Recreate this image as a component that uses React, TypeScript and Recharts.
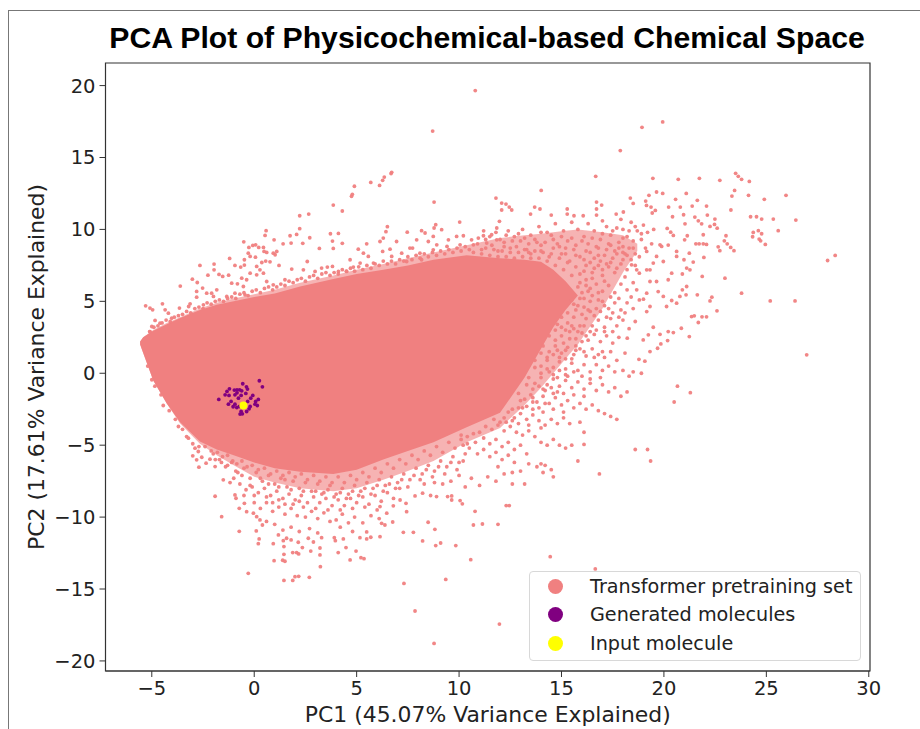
import { ComposedChart, Area, Scatter, XAxis, YAxis, ReferenceArea, Label } from "recharts";

const pcX = [-5.57, -5.42, -4.93, -4.27, -3.62, -2.65, -1.83, -1, 0, 1, 2.24, 3.86, 5, 6.3, 7.5, 8.75, 10.37, 12, 13.2, 14, 14.6, 15.2, 15.8, 17, 18, 18.7];
const coreLow = [2, 1.4, -0.5, -2.1, -3.4, -4.75, -5.3, -5.7, -6.2, -6.6, -6.85, -7, -6.7, -6, -5.4, -4.8, -3.75, -2.75, -0.3, 1.7, 3.2, 4.4, 5.4, null, null, null];
const coreHigh = [2.2, 2.5, 2.95, 3.4, 3.84, 4.4, 4.77, 5, 5.3, 5.55, 6.04, 6.55, 6.9, 7.2, 7.5, 7.9, 8.2, 8, 7.9, 7.75, 7.2, 6.4, 5.4, null, null, null];
const midLow = [2, 1.4, -0.5, -2.1, -3.5, -4.9, -5.7, -6.4, -7.2, -7.6, -8, -8.2, -8, -7.4, -6.8, -6.1, -4.8, -3.8, -2.2, -1, 0, 1, 2, 4.5, 7, 8.5];
const midHigh = [2.2, 2.5, 3, 3.5, 3.9, 4.5, 4.9, 5.2, 5.5, 5.8, 6.3, 6.8, 7.2, 7.6, 8, 8.4, 8.9, 9.4, 9.6, 9.7, 9.8, 9.9, 10, 9.8, 9.6, 9];

const topFringe = [
  [-5.3,4.69],[-5.09,4.53],[-4.96,4.41],[-4.48,4.83],[-4.84,3.67],[-5,3.25],[-5.09,2.9],[-4.6,3.48],[-4.35,4.41],[-4.19,4.18],[-4.03,3.83],[-3.65,4.53],[-3.61,6.06],[-3.02,6.54],[-2.78,6.31],[-2.65,7.5],[-2.26,6.82],[-1.96,7.59],[-1.96,7.19],[-1.72,6.87],[-1.54,6.73],[-1.25,6.82],[-1.2,7.98],[-0.94,7.5],[-0.66,7.38],[-0.48,7.89],[-0.48,7.52],[-0.26,8.75],[-0.29,8.35],[-0.07,8.89],[0.07,8.93],[0.22,8.75],[0.45,8.75],[0.48,8.47],[0.61,8.4],[-0.2,8.12],[0.06,8.07],[0.37,7.7],[0.56,7.8],[0.77,7.75],[0.93,8.35],[1.1,8.47],[1.02,8.24],[1.21,7.5],[0.12,7.43],[0.28,7.19],[0.45,6.96],[0.12,6.84],[-0.2,6.96],[-0.61,6.61],[-0.37,6.5],[-1.1,6.26],[-0.82,6.22],[-0.53,6.03],[-1.83,5.8],[-2.08,5.57],[-2.32,5.57],[-2.52,5.92],[-2.81,5.69],[-2.81,5.29],[-3.13,4.83],[-3.2,4.64],[-2.48,4.76],[-1.99,5.34],[-1.34,5.34],[-0.94,5.57],[-0.45,5.45],[0.61,6.38],[0.93,6.15],[1.5,6.5],[1.83,7.24],[2.4,7.19],[2.59,7.77],[2.97,7.08],[3.29,7.31],[3.57,7.38],[3.82,7.43],[4.11,7.08],[4.51,7.08],[4.68,7.89],[5.08,8.63],[5.33,8.35],[5.49,9],[5.57,8.12],[4.84,7.38],[5.17,7.66],[5.82,7.66],[6.14,9.16],[6.3,9.4],[6.63,8.63],[6.95,9.16],[6.27,8.47],[6.71,8.12],[7.2,8.35],[7.6,8.7],[7.73,8.7],[7.93,9.28],[8.34,9.75],[8.5,9.16],[8.74,9.51],[8.91,8.93],[9.15,9.98],[9.48,9.28],[9.88,9.51],[10.21,9.56],[10.61,9.28],[10.94,9.4],[11.19,9.56],[11.59,9.63],[11.84,10.1],[11.97,10.56],[8.09,8.35],[8.74,8.58],[9.41,8.82],[10.05,8.93],[10.7,8.93],[11.35,9.05],[11.84,9.28],[7.44,7.77],[8.17,7.89],
  [1.75,9.56],[0.97,9.28],[2.07,9.65],[2.71,9.42],[1.41,9],[1.8,9.05],[2.37,9.03],[3.72,9.7],[4.11,9.72],[3.82,9.19],[4.3,9.03],[3.18,8.68],[3.86,8.68],[6.5,10.19],[6.43,9.84],[7.47,9.81],[8.17,9.91],[8.86,10.33],[8.78,10.1],[0.58,9.91],[0.53,9.58],[-0.51,9.14],
];

const topEdge = [
  [-5.1,2.9],[-4.9,3.2],[-4.7,3.3],[-4.5,3.5],[-4.3,3.7],[-4.1,3.6],[-3.9,3.9],[-3.7,4],[-3.5,4.1],[-3.3,4.3],[-3.1,4.2],[-2.9,4.5],[-2.7,4.6],[-2.5,4.5],[-2.3,4.9],[-2.1,4.8],[-1.9,5],[-1.7,5.1],[-1.5,5],[-1.3,5.2],[-1.1,5.3],[-0.9,5.2],[-0.7,5.5],[-0.5,5.6],[-0.3,5.4],[-0.1,5.7],[0.1,5.8],[0.3,5.6],[0.5,5.9],[0.7,6],[0.9,5.8],[1.1,6],[1.3,6.2],[1.5,6.1],[1.7,6.4],[1.9,6.3],[2.1,6.5],[2.3,6.6],[2.5,6.4],[2.7,6.7],[2.9,6.8],[3.1,6.6],[3.3,6.9],[3.5,7],[3.7,6.8],[3.9,7],[4.1,6.9],[4.3,7.2],[4.5,7.1],[4.7,7.3],[4.9,7.1],[5.1,7.4],[5.3,7.2],[5.5,7.5],[5.7,7.3],[5.9,7.6],[6.1,7.5],[6.3,7.8],[6.5,7.6],[6.7,7.8],[6.9,7.6],[7.1,7.9],[7.3,7.8],[7.5,8.1],[7.7,7.9],[7.9,8.2],[8.1,8],[8.3,8.3],[8.5,8.1],[8.7,8.4],[8.9,8.2],[9.1,8.5],[9.3,8.3],[9.5,8.6],[9.7,8.4],[9.9,8.7],[10.1,8.5],[10.3,8.8],[10.5,8.6],[10.7,8.4],[10.9,9],[11.1,8.3],[11.3,8.7],[11.5,8.2],[11.7,8.6],[11.9,8.1],[12.1,8.5],[12.3,8.1],[12.5,8.4],[12.7,8],[12.9,8.4],[13.1,8.1],[13.3,8.6],[13.5,8],[13.7,8.5],[13.9,8],[14.1,8.4],[14.3,7.8],[14.5,8.3],[14.7,7.5],[14.9,8],[15.1,7.2],[15.3,7.7],[15.5,6.8],[15.7,7.4],[15.9,6.3],[16.1,7.1],[16.3,5.7],[16.5,6.6],
  [11.2,9.9],[11.5,9.5],[11.8,9.8],[12,9.3],[12.3,9.6],[12.6,9.2],[12.9,9.7],[13.2,9.4],[13.4,9],[13.7,9.3],[14,9.8],[14.2,9.1],[14.5,9.6],[14.8,9],[15,9.5],[15.2,8.7],[15.5,9.4],[15.7,8.9],[16,9.2],[16.2,8.5],[16.5,9.4],[16.7,8.8],[17,9.7],[17.3,9],[17.5,9.9],[17.8,9.1],[18,10],[18.2,9.5],[18.5,9.2],[18.7,9.9],[18.9,9.3],
  [12.2,8.8],[12.8,8.8],[13.4,8.4],[14,8.9],[14.6,8.7],[15.2,8.3],[15.7,8.2],[16.1,7.9],[16.6,8],[16.9,7.8],[17.2,8.6],[17.5,8],[17.8,8.7],[18.1,8.3],[18.4,7.9],[16.6,7.3],[17,7.2],[17.4,7.7],[17.7,7.3],[18,7.9],
];

const rightFringe = [
  [11.1,8.6],[11.3,9.3],[11.6,8.9],[11.9,8.5],[12.2,9.1],[12.5,8.7],[12.7,9.5],[13,9.2],[13.2,8.6],[13.5,9.6],[13.8,9.1],[14,8.5],[14.3,9.8],[14.6,9.3],[14.9,8.8],[15.1,9.9],[15.3,9.2],[15.6,8.6],[15.8,10],[16.1,9.5],[16.3,9],[16.6,9.9],[16.9,9.3],[17.2,10.2],[17.4,9.6],[17.7,10.1],[18,9.4],[18.3,9.9],[18.6,10.2],[18.9,9.7],[19.2,9.8],
  [12.4,9.9],[13.1,10],[13.9,10.2],[14.7,10.4],[15.5,10.5],[16.3,10.4],[17,10.6],[17.9,10.7],[18.4,10.5],[19,10.3],[19.5,10],
  [13.5,8.3],[14.4,8.1],[15,8.3],[15.4,7.8],[15.9,8.1],[16.2,7.5],[16.4,8.4],[16.8,8.7],[17.1,8.2],[17.4,8.9],[17.7,8.3],[18,8.8],[18.2,8.2],[18.5,8.7],[18.8,8.1],[19.1,8.7],[19.4,9],
  [15.9,6.9],[16.2,6.5],[16.5,7],[16.8,7.5],[17,6.8],[17.3,7.4],[17.6,7],[17.9,7.6],[18.2,7.2],[18.6,7.5],[16.4,5.9],[16.7,6.2],[17,5.7],[17.3,6.1],[17.6,5.6],[17.9,6.2],[18.2,5.8],[18.5,6.3],[18.8,6.96],[19.16,7.19],[19.32,7.19],[18.67,7.19],[18.42,7.54],[19.48,7.66],[19.97,7.77],[20.38,6.96],[20.21,6.5],[19.64,8.12],[19.16,8.47],[19.81,8.93],[20.62,8.47],[20.62,8.12],
  [15.6,4.8],[15.9,5.2],[16.1,4.6],[16.4,5],[16.7,4.5],[17,5],[17.3,4.5],[17.6,4.9],[17.9,4.4],[18.2,4.9],[18.5,4.5],[18.8,5.1],[19,5.15],[18.67,5.8],[19.16,5.57],[19.32,4.64],[19.16,4.29],[19.32,6.38],[19.64,6.38],[19.72,5.68],[19.97,5.34],[20.13,4.64],[20.38,5.06],[20.62,4.87],[20.78,5.34],[21.08,5.45],[21.11,6.03],[20.9,5.8],
  [15,3.9],[15.3,3.5],[15.6,3.9],[15.9,3.3],[16.2,3.8],[16.5,3.3],[16.8,3.7],[17.1,3.2],[17.4,3.8],[17.7,3.3],[18,3.7],[18.3,3.1],[18.6,3.6],[14.7,3],[15,2.6],[15.4,2.9],[15.7,2.4],[16,2.8],[16.3,2.3],[16.6,2.7],[16.9,2.2],[17.2,2.6],[17.5,2.1],[17.8,2.5],[18.21,2.44],[18.99,2.32],[19.24,2.67],[19.48,3.2],[19.81,2.71],[20.18,2.27],[20.21,2.9],[20.46,2.83],[20.85,3.13],[19.85,2.04],[19.69,1.74],[19.32,1.51],[18.78,0.97],[19.07,0.84],
  [14.1,1.9],[14.4,1.5],[14.7,1.9],[15,1.4],[15.3,1.8],[15.6,1.3],[15.9,1.7],[16.2,1.2],[16.5,1.7],[16.8,1.3],[17.1,1.1],[17.4,1.5],[17.7,0.9],[18.1,1.4],[13.7,0.9],[14,0.5],[14.3,0.9],[14.6,0.4],[14.9,0.8],[15.2,0.3],[15.5,0.7],[15.8,0.2],[16.1,0.6],[16.4,0.1],[16.7,0.6],[17,0.2],[17.3,0.5],[17.6,0.1],[18,0.2],[18.3,-0.2],[18.5,0.1],[18.9,0],
  [13.4,-0.3],[13.7,-0.7],[14,-0.3],[14.3,-0.8],[14.6,-0.4],[14.9,-0.9],[15.2,-0.5],[15.5,-1],[15.8,-0.6],[16.1,-1.1],[16.4,-0.7],[16.7,-1.2],[17,-0.8],[17.3,-1.3],[17.6,-1],[17.9,-1.6],[18.2,-1.3],[12.9,-1.4],[13.2,-1.8],[13.5,-1.5],[13.8,-2],[14.1,-1.6],[14.4,-2.1],[14.7,-1.7],[15,-2.2],[15.3,-1.9],[15.6,-2.4],[15.9,-2.1],[16.2,-2.5],[16.5,-2.2],[16.8,-2.6],[17.1,-2.8],[17.4,-3],[17.7,-3.2],
  [12.4,-2.7],[12.7,-3.1],[13,-2.8],[13.3,-3.2],[13.6,-2.9],[13.9,-3.3],[14.2,-3.6],[14.5,-3.2],[14.8,-3.5],[15.1,-3.1],[15.4,-3.5],[15.9,-3.4],[16.1,-4.1],[11.9,-3.6],[12.2,-4],[12.5,-3.7],[12.8,-4.1],[13.1,-4.3],[13.4,-4],[13.7,-4.4],[14,-4.8],[14.3,-5],[14.6,-4.6],[14.9,-5],[15.2,-5.2],[15.5,-5],
  [11.2,-4.5],[11.5,-4.9],[11.8,-4.6],[12.1,-5.1],[12.4,-4.8],[12.7,-5.3],[13,-5],[13.3,-5.6],[10.5,-5.2],[10.9,-5.6],[11.2,-5.3],[11.5,-5.8],[11.8,-5.5],[12.1,-6],[12.4,-5.7],[12.7,-6.2],[13,-6.8],[13.4,-6.3],[13.8,-6.5],[14,-6.3],[14.2,-6.4],[11.9,-6.5],[12.2,-7],[12.6,-6.9],[12.6,-7.7],[13.2,-7.7],
  [15.3,4.2],[15.7,4.4],[16,4.1],[16.3,4.4],[16.6,4],[16.9,4.3],[17.2,3.9],[14.8,3.4],[15.2,3],[15.5,3.3],[15.8,2.9],[16.1,3.3],[16.4,2.9],[14.4,2.6],[14.7,2.3],[15.1,2.1],[15.4,2.4],[15.7,1.9],[16,2.2],[14,1.4],[14.3,1.1],[14.6,1.3],[14.9,1.1],[15.2,1],[15.5,1],[13.7,0.4],[14,0],[14.3,0.3],[14.6,-0.1],[14.9,0.2],[15.3,-0.2],[13.3,-0.8],[13.6,-1.1],[13.9,-0.9],[14.2,-1.2],[14.5,-1],[14.8,-1.3],[13,-1.9],[13.3,-2.3],[13.6,-2],[13.9,-2.4],[14.2,-2.1],[12.6,-2.5],[12.9,-2.4],[12.2,-3.1],[12.6,-3.3],[11.7,-3.2],[12,-3.4],[11.3,-3.7],[11.6,-3.9],[11,-4.1],[10.7,-4.2],[10.4,-4.4],[10.1,-4.6],[10.8,-4.8],[10.2,-5],
  [16.2,6.1],[16.5,5.4],[16.8,5.6],[17.1,6.4],[17.4,5.3],[17.8,5.2],[18.1,6.7],[18.4,5.3],[16.4,7.7],[16.8,8.2],[17.2,7.6],[17.6,8.5],[18,8.4],[18.3,8.7],[18.6,8.3],[15.8,6],[16,5.6],[15.5,5.1],[15.8,4.7],[16.1,5.2],[16.4,4.3],[16.8,5.1],[17.1,4.7],[17.5,4.2],[17.8,3.9],[18.1,4.2],[15,3.2],[15.6,3.1],[16.2,2.6],[16.7,3],[17.1,2.9],[17.5,2.9],[14.8,1.6],[15.2,1.6],[15.7,1.6],[16.1,1.5],[16.6,1.1],[17,1.5],[14.4,0.1],[14.8,-0.3],[15.2,-0.1],[15.6,0.1],[16,-0.2],[16.4,-0.4],[16.9,-0.3],[13.6,-1.7],[14.1,-1.1],[14.6,-1.4],[15.1,-1.4],[15.6,-1.5],[16.1,-1.6],[13.1,-2.4],[13.6,-2.5],[14.1,-2.7],[14.6,-2.5],[15.1,-2.7],[12.3,-3.4],[12.9,-3.5],[13.4,-3.6],[14,-3.8],
];

const bottomFringe = [
  [-5,-0.45],[-4.44,-2.24],[-3.7,-3.7],[-3.21,-4.51],[-2.89,-5.21],[-3,-5.74],[-2.81,-6.02],[-2.7,-6.53],[-2.35,-6.25],[-2.56,-5.84],[-2.73,-5.44],[-2.16,-5.97],[-1.91,-6.49],[-1.51,-7.41],[-1.18,-7.6],[-0.94,-8.46],[-0.89,-8.69],[-0.73,-9.39],[-0.48,-9.04],[-0.37,-9.62],[-0.04,-9.73],[0.12,-9.97],[0.28,-10.2],[0.4,-10.55],[0.1,-10.96],
  [-2,-5.6],[-1.7,-6],[-1.4,-6.5],[-1.1,-6.2],[-0.8,-6.9],[-0.5,-6.6],[-0.2,-7.3],[0.1,-6.9],[0.4,-7.5],[0.7,-7.1],[1,-7.7],[1.3,-7.3],[1.6,-7.9],[1.9,-7.5],[2.2,-8],[2.5,-7.6],[2.8,-8.2],[3.1,-7.7],[3.4,-8.3],[3.7,-7.8],[4,-8.4],[4.3,-8],[4.6,-8.4],[4.9,-7.8],[5.2,-8.2],[5.5,-7.6],[5.8,-8],[6.1,-7.4],[6.4,-7.8],[6.7,-7.2],[7,-7.6],[7.3,-7],[7.6,-7.4],[7.9,-6.6],[8.2,-7],[8.5,-6.4],[8.8,-6.8],[9.1,-6.1],[9.4,-6.5],[9.7,-5.8],[10,-6.2],[10.3,-5.6],
  [-1,-7.3],[-0.7,-7.7],[-0.4,-8.1],[-0.1,-7.9],[0.2,-8.3],[0.5,-8],[0.8,-8.5],[1.1,-8.2],[1.4,-8.7],[1.7,-8.4],[2,-8.8],[2.3,-8.5],[2.6,-9],[2.9,-8.6],[3.2,-9],[3.5,-8.7],[3.8,-9.2],[4.1,-8.8],[4.4,-9.2],[4.7,-8.7],[5,-9],[5.3,-8.6],[5.6,-9.1],[5.9,-8.5],[6.2,-8.9],[6.5,-8.3],[6.8,-8.7],[7.1,-8],
  [0,-9],[0.3,-9.4],[0.6,-9],[0.9,-9.6],[1.2,-9.3],[1.5,-9.8],[1.8,-9.4],[2.1,-9.9],[2.5,-10],[2.8,-9.6],[3.1,-10.1],[3.4,-9.7],[3.7,-10.3],[4,-10.2],[4.3,-9.8],[4.6,-10.4],[4.9,-10],[5.3,-10.4],[5.7,-9.9],[6.1,-10.1],[0.6,-10.3],[1,-10.5],[1.4,-10.9],[1.8,-10.7],[2.2,-11],[2.7,-10.8],[3.1,-11.1],[4.2,-10.7],[4.8,-11],
  [1.18,-11.24],[0.93,-11.85],[1.42,-11.64],[1.45,-12.05],[1.58,-11.47],[1.8,-11.59],[2.15,-11.75],[2.35,-12.12],[2.76,-12.36],[3.21,-12.15],[2.64,-11.47],[2.89,-11.73],[3.29,-11.43],[3.91,-11.43],[3.96,-11.64],[4.48,-12.12],[4.35,-11.52],[5.16,-11.43],[5.49,-11.03],[5.49,-11.52],[5.69,-11.4],[6.14,-11.36],[6.38,-10.55],[6.22,-10.43],[6.76,-10.34],[7.41,-9.04],[7.44,-9.62],[7.12,-8.81],[6.79,-9.22],[6.47,-9.73],[6.14,-9.27],[8.22,-8.34],[7.85,-8.53],[8.61,-8.5],[8.9,-8.57],[9.44,-8.57],[9.64,-8.53],[9.64,-8.81],[10.05,-8.85],[10.16,-9.08],
  [10.3,-7.9],[10.6,-7.3],[11,-7.8],[11.4,-7.2],[11.8,-7.5],[10,-7.1],[9.6,-7.5],[9.2,-7.7],[8.8,-7.6],[8.3,-7.7],
];

const bottomEdge = [
  [-5.2,0.5],[-4.85,-0.9],[-4.55,-1.5],[-4.15,-2.6],[-3.85,-3.2],[-3.5,-3.9],[-3.3,-4.4],[-3,-4.9],[-2.7,-5.1],[-2.4,-5.1],[-2.1,-5.4],[-1.8,-5.5],[-1.55,-5.8],[-1.3,-5.7],[-1.05,-6.1],[-0.85,-6.3],[-0.6,-6.1],[-0.35,-6.5],[-0.1,-6.4],[0.2,-6.7],[0.5,-6.6],[0.8,-7],[1.1,-6.8],[1.4,-7.1],[1.7,-6.9],[2,-7.2],[2.3,-7],[2.6,-7.4],[2.9,-7.1],[3.2,-7.5],[3.5,-7.2],[3.8,-7.6],[4.1,-7.2],[4.4,-7.6],[4.7,-7.1],[5,-7.4],[5.3,-6.9],[5.6,-7.2],[5.9,-6.6],[6.2,-6.9],[6.5,-6.3],[6.8,-6.6],[7.1,-6],[7.4,-6.3],[7.7,-5.7],[8,-6],[8.3,-5.4],[8.6,-5.7],[8.9,-5.1],[9.2,-5.5],[9.5,-4.8],[9.8,-5.2],[10.1,-4.3],[10.4,-4.9],
  [-0.6,-7.1],[-0.9,-6.8],[-0.2,-7.8],[0.3,-7.3],[0.7,-7.7],[1.2,-7.9],[1.5,-7.4],[1.8,-8.1],[2.4,-8.2],[3,-8.2],[3.6,-8.1],[4.2,-8.3],[4.8,-8.2],[5.4,-8],[6,-7.8],[6.6,-7.7],[7.2,-7.4],[7.8,-7.1],[8.4,-6.7],[9,-6.5],[9.6,-6.2],[10.2,-6.1],[-1.3,-6.4],[-1.6,-6.2],[-1.9,-6],[-0.5,-8.5],[0,-8.5],[0.6,-8.6],[1.2,-8.8],[1.9,-9.1],[2.4,-9.3],[3,-9.4],[3.6,-9.5],[4.2,-9.5],[4.8,-9.4],[5.4,-9.3],[6,-9.5],
  [0.9,-9],[1.5,-9.1],[2.2,-8.9],[3.3,-8.4],[3.9,-8.6],[4.5,-8.7],[5.1,-8.5],[5.7,-8.4],[6.3,-8.2],[6.9,-8],[7.5,-7.9],[8.1,-7.4],[8.7,-7.2],[9.3,-7],[9.9,-6.7],
];

const outliers = [
  [10.79,19.65],[8.71,16.84],[6.71,13.97],[6.68,13.88],[6.35,13.64],[6.27,13.41],[6.12,13.06],[5.69,13.27],[4.89,13],[4.79,12.44],[4.75,12.3],[3.86,11.69],[4.3,11.28],[8.78,11.9],[10.03,10.51],[2.66,11.07],[2.22,10.95],[2.22,10.05],
  [19.94,17.47],[18.93,17.1],[17.87,15.48],[16.67,13.69],[19.46,13.55],[20.7,13.48],[21.73,13.55],[22.73,13.41],[23.5,13.9],[23.63,13.69],[23.79,13.48],[24.17,13.34],[14.01,12.71],[23.45,12.71],[23.32,12.32],[24.13,12.37],[24.9,12.09],[25.96,12.37],[19.64,12.6],[19.94,12.5],[19.27,12.37],[21.09,12.5],[20.57,12.09],[21.63,12.02],[18.36,12.18],[18.5,11.81],[19.11,11.97],[11.8,12.18],[12.08,11.83],[12.29,11.76],[12.45,11.55],[12.57,11.35],[12.08,11.35],[13.69,11.55],[13.95,11.42],[15.28,11.42],[16.71,11.9],[16.96,11.69],[16.71,11.42],[13.49,11.07],[14.5,11],[15.28,11.07],[15.61,10.95],[16.06,10.95],[16.71,11],[17.67,11.07],[18.02,11.21],[19.15,11.67],[19.37,11.55],[19.58,11.32],[19.43,11.14],[20.23,11.55],[20.8,11.55],[21.38,11.62],[22.08,11.62],[23.27,11.35],[20.42,10.88],[20.96,11.02],[21.51,10.86],[22.12,11],[21.68,10.6],[22.49,10.72],[24.23,10.88],[24.52,10.88],[24.77,10.72],[25.34,10.72],[26.44,10.65],[21.03,10.39],[21.84,10.39],[22.25,10.21],[22.47,10.35],[22.6,10.09],[25.58,9.91],[24.61,9.91],[24.36,9.79],[24.77,9.7],[24.33,9.49],[24.65,9.33],[24.72,9.21],[24.95,8.96],[23.03,9.56],[22.95,9.21],[23.09,9],[23.26,8.75],[23.42,8.52],[22.65,8.79],[22.73,8.52],[27.99,7.84],[28.36,8.19],[21.56,9],[21.72,9],[21.92,9.63],[21.92,9],[22.08,8.96],[21.14,9.56],[21.01,9.28],[20.16,10.07],[20.33,9.81],[20.46,9.58],[20.21,8.91],[19.89,8.82],[22.98,6.61],[23.79,5.57],[25.19,5.03],[26.4,5.03],[26.97,1.28],[22.34,5.29],[22.25,5.03],[22.59,4.34],[21.87,6.73],[21.63,5.45],[21.95,8.05],[21.24,8.35],[21.43,7.73],[20.98,7.89],[21.27,7.19],[21.11,7.31],[20.9,6.9],[21.35,3.94],[21.48,3.99],[21.86,3.92],[22.08,3.92],[21.68,3.53],[21.24,2.55],
  [20.66,-0.9],[20.5,-2],[21.29,-1.35],[19.2,-5.3],[19.35,-6.1],[18.6,-5.3],[16.1,-4.95],[15.8,-6.1],[16.85,-7],[14.1,-6.9],[14.5,-6.7],[14.6,-7.2],[12.3,-9.2],[12.45,-9.2],[11.9,-10.5],[14.45,-12.75],[16.65,-13.6],[11.97,-17.44],
  [-1.91,-8.55],[-1.59,-9.97],[-0.73,-10.99],[0.24,-11.52],[0.2,-11.85],[-0.29,-13.91],[0.97,-13.03],[1.45,-12.59],[1.39,-13],[1.5,-13.07],[1.45,-14.4],[1.88,-12.47],[2.07,-12.47],[2.17,-12.56],[1.99,-14.14],[2.17,-14.12],[1.88,-14.4],[2.69,-14.19],[3.21,-12.63],[3.23,-13.45],[4.1,-12.47],[4.97,-12.36],[4.68,-12.98],[5.21,-12.82],[5.36,-12.89],[7.31,-14.61],[7.85,-16.53],[8.78,-18.78],[9.35,-14.33],[10.57,-12.96],[9.84,-11.98],[9.1,-11.8],[8.86,-11.98],[8.22,-11.66],[7.77,-11.06],[7.28,-11.06],[8.49,-10.36],[8.82,-10.85],[10.78,-9.6],[10.7,-10.55],[11.14,-10.48],
];

const generated = [
  [-1.73,-1.82],[-1.21,-1.08],[-1.33,-1.26],[-1.42,-1.5],[-1.23,-1.54],[-1.26,-2.15],[-1.13,-1.96],[-0.97,-1.17],[-0.84,-1.15],[-0.71,-1.15],[-0.61,-1.22],[-0.94,-1.5],[-0.77,-1.73],[-0.64,-1.54],[-0.84,-1.36],[-0.56,-0.73],[-0.38,-0.94],[-0.33,-1.1],[0.25,-0.52],[0.4,-0.94],[-0.41,-1.4],[-0.07,-1.54],[-0.17,-1.73],[0.2,-1.82],[0.07,-1.96],[0.04,-2.15],[0.15,-2.24],[-0.94,-2.15],[-1.03,-2.33],[-0.85,-2.38],[-0.72,-2.31],[-0.64,-2.66],[-0.58,-2.82],[-0.69,-2.84],[-0.37,-2.66],[-0.25,-2.47],[-0.2,-2.31],[-0.32,-1.96],
];
const inputMolecule = [[-0.53, -2.24]];

const xTicks = [-5, 0, 5, 10, 15, 20, 25, 30];
const yTicks = [-20, -15, -10, -5, 0, 5, 10, 15, 20];
const legendItems = [
  { name: "Transformer pretraining set", color: "#f08080" },
  { name: "Generated molecules", color: "#800080" },
  { name: "Input molecule", color: "#ffff00" },
];

const table = pcX.map((x, i) => ({
  x,
  core: coreLow[i] === null ? null : [coreLow[i], coreHigh[i]],
  mid: [midLow[i], midHigh[i]],
}));
const toPoints = (list: number[][]) => list.map(([x, y]) => ({ x, y }));
const coral = toPoints([...topFringe, ...topEdge, ...rightFringe, ...bottomFringe, ...bottomEdge, ...outliers]);

const dot = (r: number, fill: string, opacity = 1) => (p: any) => (
  <circle cx={p.cx} cy={p.cy} r={r} fill={fill} fillOpacity={opacity} />
);
const fmt = (v: number) => String(v).replace("-", "\u2212");
const xMin = -7.26, xMax = 30.06, yMin = -20.7, yMax = 21.57;
const tickStyle = { fontFamily: "DejaVu Sans", fontSize: 19.5, fill: "#222" };
const labelStyle = { fontFamily: "DejaVu Sans", fontSize: 21.9, fill: "#222" };

export default function App() {
  return (
    <div style={{ position: "absolute", left: 0, top: 0, width: 920, height: 729, overflow: "hidden", background: "#fff" }}>
      <div style={{ position: "absolute", left: 8, top: 10, width: 930, height: 740, borderLeft: "1.5px solid #777", borderTop: "1.5px solid #777" }} />
      <div style={{ position: "absolute", left: 0, width: 974, top: 21, textAlign: "center", fontFamily: "Liberation Sans", fontWeight: "bold", fontSize: 30.2, lineHeight: "34px", color: "#000" }}>
        PCA Plot of Physicochemical-based Chemical Space
      </div>
      <div style={{ position: "absolute", left: 0, top: 0 }}>
        <ComposedChart width={920} height={729} data={table} margin={{ top: 63, right: 50, bottom: 0, left: 0 }}>
          <XAxis dataKey="x" type="number" domain={[xMin, xMax]} ticks={xTicks} allowDataOverflow tickFormatter={fmt} height={58} tickSize={6} tickMargin={4} stroke="#333" tick={tickStyle}>
            <Label value="PC1 (45.07% Variance Explained)" position="insideBottom" offset={7} style={labelStyle} />
          </XAxis>
          <YAxis type="number" domain={[yMin, yMax]} ticks={yTicks} allowDataOverflow tickFormatter={fmt} width={105.5} tickSize={6} tickMargin={4} stroke="#333" tick={tickStyle}>
            <Label value="PC2 (17.61% Variance Explained)" angle={-90} position="insideLeft" offset={36} style={{ ...labelStyle, textAnchor: "middle" }} />
          </YAxis>
          <Area dataKey="mid" type="linear" stroke="none" fill="#f08080" fillOpacity={0.6} isAnimationActive={false} dot={false} activeDot={false} />
          <Area dataKey="core" type="linear" stroke="none" fill="#f08080" fillOpacity={1} isAnimationActive={false} dot={false} activeDot={false} />
          <Scatter data={coral} dataKey="y" shape={dot(1.9, "#f08080", 0.95)} isAnimationActive={false} />
          <Scatter data={toPoints(generated)} dataKey="y" shape={dot(1.9, "#800080")} isAnimationActive={false} />
          <Scatter data={toPoints(inputMolecule)} dataKey="y" shape={dot(4, "#ffff00")} isAnimationActive={false} />
          <ReferenceArea x1={xMin} x2={xMax} y1={yMin} y2={yMax} fill="none" stroke="#333" strokeWidth={1.2} />
        </ComposedChart>
      </div>
      <div style={{ position: "absolute", left: 529, top: 571, width: 332, height: 90, boxSizing: "border-box", border: "1px solid #d8d8d8", borderRadius: 4, background: "rgba(255,255,255,0.8)" }}>
        {legendItems.map((item, i) => (
          <div key={item.name} style={{ position: "absolute", left: 0, top: i * 28.5, height: 28, display: "flex", alignItems: "center" }}>
            <span style={{ position: "absolute", left: 18, top: 6.5, width: 15, height: 15, borderRadius: "50%", background: item.color }} />
            <span style={{ position: "absolute", left: 60, whiteSpace: "nowrap", fontFamily: "DejaVu Sans", fontSize: 19.2, color: "#222" }}>{item.name}</span>
          </div>
        ))}
      </div>
    </div>
  );
}
